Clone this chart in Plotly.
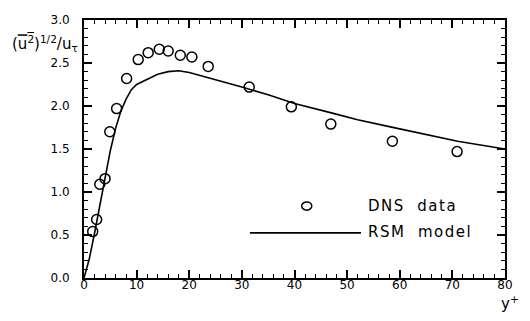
import plotly.graph_objects as go

# DNS data (circles)
x_dns = [1.65, 2.4, 3.0, 4.0, 4.9, 6.2, 8.1, 10.3, 12.2, 14.3, 16.0, 18.3, 20.5, 23.6, 31.4, 39.4, 46.9, 58.6, 70.9]
y_dns = [0.54, 0.68, 1.09, 1.155, 1.70, 1.97, 2.32, 2.54, 2.62, 2.66, 2.64, 2.59, 2.57, 2.46, 2.22, 1.99, 1.79, 1.59, 1.47]

# RSM model (line)
x_rsm = [0, 1, 2, 3, 4, 5, 6, 7, 8, 9, 10, 12, 14, 16, 18, 20, 23, 26, 30, 35, 40, 47, 52, 58, 65, 71, 80]
y_rsm = [0, 0.22, 0.52, 0.84, 1.16, 1.48, 1.74, 1.94, 2.08, 2.19, 2.25, 2.31, 2.37, 2.40, 2.41, 2.39, 2.34, 2.29, 2.22, 2.13, 2.03, 1.92, 1.84, 1.76, 1.67, 1.59, 1.50]

FONT = "DejaVu Sans, Arial, sans-serif"
LS = "<span style='letter-spacing:1.5px'>{}</span>"

fig = go.Figure()
fig.add_trace(go.Scatter(x=x_rsm, y=y_rsm, mode="lines",
                         line=dict(color="black", width=1.6), showlegend=False))
fig.add_trace(go.Scatter(x=x_dns, y=y_dns, mode="markers",
                         marker=dict(symbol="circle-open", size=10, color="black",
                                     line=dict(width=1.5, color="black")),
                         showlegend=False))

axis_common = dict(showgrid=False, zeroline=False, showline=True, linecolor="black",
                   linewidth=2, mirror="allticks", ticks="inside", tickcolor="black",
                   tickwidth=1.5, ticklen=8,
                   tickfont=dict(family=FONT, size=12, color="black"))

# the page body has an 8px margin, so the figure is 16px smaller than the window
fig.update_layout(
    width=514, height=305,
    margin=dict(l=76, r=17, t=5, b=35),
    plot_bgcolor="white", paper_bgcolor="white",
    xaxis=dict(range=[0, 80], tickmode="linear", tick0=0, dtick=10,
               minor=dict(dtick=2, ticks="inside", ticklen=4, tickcolor="black", tickwidth=1.2),
               ticklabelstandoff=-5,
               **axis_common),
    yaxis=dict(range=[0, 3], tickmode="linear", tick0=0, dtick=0.5, tickformat=".1f",
               minor=dict(dtick=0.1, ticks="inside", ticklen=4, tickcolor="black", tickwidth=1.2),
               ticklabelstandoff=10,
               **axis_common),
    showlegend=False,
)

# axis titles
fig.add_annotation(xref="paper", yref="paper", x=-0.176, y=0.91, xanchor="left", yanchor="middle",
                   text="(<span style='text-decoration:overline'>u<sup>2</sup></span>)<sup>1/2</sup>/u<sub>τ</sub>",
                   showarrow=False, font=dict(family=FONT, size=15, color="black"))
fig.add_annotation(xref="paper", yref="paper", x=0.985, y=-0.095, xanchor="left", yanchor="middle",
                   text="y<sup>+</sup>", showarrow=False,
                   font=dict(family=FONT, size=15, color="black"))

# manual legend
fig.add_shape(type="circle", xref="paper", yref="paper",
              x0=0.529 - 0.012, x1=0.529 + 0.012, y0=0.279 - 0.016, y1=0.279 + 0.016,
              line=dict(color="black", width=1.5))
fig.add_shape(type="line", xref="paper", yref="paper", x0=0.394, x1=0.658, y0=0.175, y1=0.175,
              line=dict(color="black", width=1.6))
fig.add_annotation(xref="paper", yref="paper", x=0.670, y=0.279, xanchor="left", yanchor="middle",
                   text=LS.format("DNS\u00a0\u00a0data"), showarrow=False,
                   font=dict(family=FONT, size=15, color="black"))
fig.add_annotation(xref="paper", yref="paper", x=0.670, y=0.178, xanchor="left", yanchor="middle",
                   text=LS.format("RSM\u00a0\u00a0model"), showarrow=False,
                   font=dict(family=FONT, size=15, color="black"))

fig.write_html("out.html")
